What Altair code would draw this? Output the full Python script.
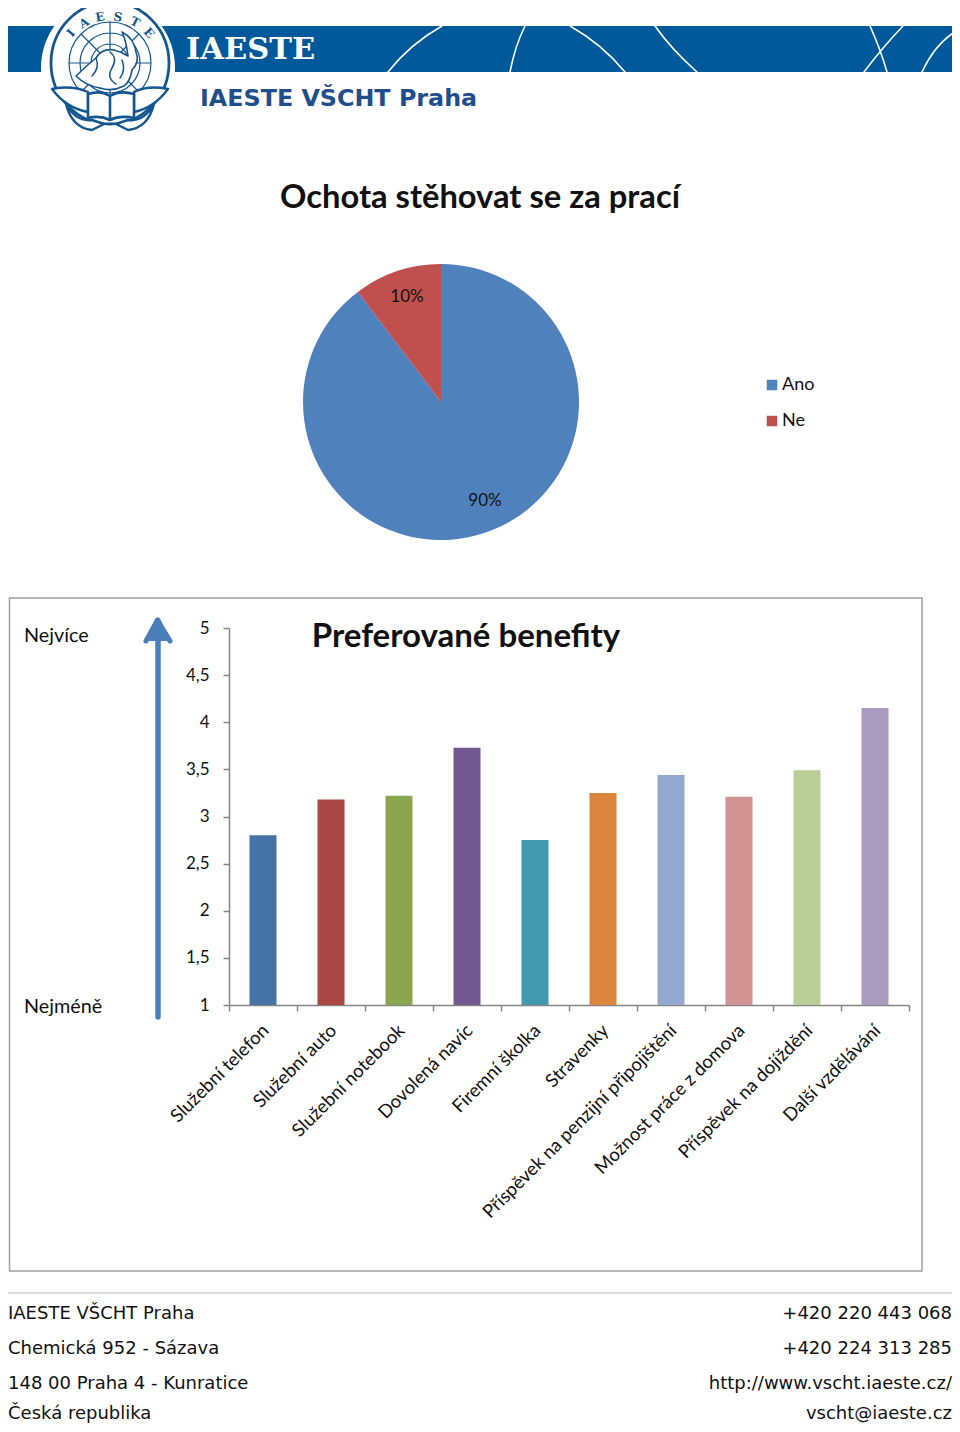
import altair as alt
import pandas as pd

BENEFITS = ["Služební telefon", "Služební auto", "Služební notebook", "Dovolená navíc",
            "Firemní školka", "Stravenky", "Příspěvek na penzijní připojištění",
            "Možnost práce z domova", "Příspěvek na dojíždění", "Další vzdělávání"]
SCORES = [2.80, 3.18, 3.22, 3.73, 2.75, 3.25, 3.44, 3.21, 3.49, 4.15]
BAR_COLORS = ["#4573A7", "#AA4643", "#89A54E", "#71588F", "#4198AF",
              "#DB843D", "#93A9CF", "#D19392", "#B9CD96", "#A99BBD"]
Y_TICKS = [1, 1.5, 2, 2.5, 3, 3.5, 4, 4.5, 5]
ANSWERS = ["Ano", "Ne"]
SHARES = [89.7, 10.3]
PIE_COLORS = ["#4F81BD", "#C0504D"]
FOOT_LEFT = ["IAESTE VŠCHT Praha", "Chemická 952 - Sázava", "148 00 Praha 4 - Kunratice", "Česká republika"]
FOOT_RIGHT = ["+420 220 443 068", "+420 224 313 285", "http://www.vscht.iaeste.cz/", "vscht@iaeste.cz"]

BLUE = "#00599A"
LOGO = "#14568F"
ONE = pd.DataFrame({"a": [0]})
OFF = 8
W = 944
H = 1416
FOOT_Y = [1314, 1349, 1384, 1414]


def text(s, x, y, size, font="Lato", color="#111111", align="left", weight="normal", angle=0):
    return alt.Chart(ONE).mark_text(text=s, font=font, fontSize=size, color=color, align=align,
                                    baseline="middle", fontWeight=weight, angle=angle).encode(
        x=alt.value(x - OFF), y=alt.value(y - OFF))


def box(x, y, x2, y2, fill):
    return alt.Chart(ONE).mark_rect(color=fill).encode(
        x=alt.value(x - OFF), x2=alt.value(x2 - OFF), y=alt.value(y - OFF), y2=alt.value(y2 - OFF))


def path(d, stroke=None, width=1.0, fill=None):
    props = dict(shape=d, size=4, opacity=1, strokeCap="round", strokeJoin="round")
    if fill:
        props.update(fill=fill, filled=True)
    else:
        props.update(filled=False)
    if stroke:
        props.update(stroke=stroke, strokeWidth=width)
    else:
        props.update(strokeWidth=0)
    return alt.Chart(ONE).mark_point(**props).encode(x=alt.value(-OFF), y=alt.value(-OFF))


def ellipse(cx, cy, rx, ry):
    return (f"M{cx-rx},{cy}A{rx},{ry} 0 1 1 {cx+rx},{cy}A{rx},{ry} 0 1 1 {cx-rx},{cy}Z")


layers = []

# header banner
layers.append(box(0, 26, 954, 72, BLUE))
layers.append(path("M388,72Q410,44 442,26M510,72Q515,46 525,26M570,26Q602,44 625,72"
                   "M655,26Q672,50 697,72M870,26Q880,48 887,72M903,26Q882,48 864,72M953,33Q934,46 922,72",
                   stroke="#FFFFFF", width=1.6))
layers.append(path(ellipse(108, 68, 67, 70), fill="#FFFFFF"))
layers.append(path(ellipse(110, 63, 59, 61), stroke=LOGO, width=2.8))
layers.append(path(ellipse(110, 63, 41, 41) + ellipse(110, 63, 30, 30) + ellipse(110, 63, 19, 19)
                   + "M69,63L151,63M110,22L110,104M81,34L139,92M139,34L81,92",
                   stroke=LOGO, width=1.2))
layers.append(path("M76,76Q86,66 96,58Q102,48 114,50Q122,52 128,56Q126,40 122,32Q134,38 136,52Q140,62 132,70"
                   "Q130,82 124,86Q112,92 100,88Q86,86 76,76Z", stroke=LOGO, width=1.6, fill="#FFFFFF"))
layers.append(path("M110,52Q118,58 112,68Q106,78 116,84M96,58Q100,68 92,76M122,60Q126,70 120,78",
                   stroke=LOGO, width=1.5))
layers.append(path("M52,89Q72,85 88,92L88,112Q66,108 52,89Z"
                   "M168,89Q148,85 134,92L134,112Q154,108 168,89Z", stroke=LOGO, width=2.4, fill="#FFFFFF"))
layers.append(path("M66,104Q76,122 92,120L104,124L92,130Q72,128 66,104Z"
                   "M154,104Q144,122 128,120L116,124L128,130Q148,128 154,104Z", stroke=LOGO, width=2.4, fill="#FFFFFF"))
layers.append(path("M88,94Q100,90 110,96Q120,90 134,94L134,118Q120,115 110,120Q100,115 88,118Z M110,96L110,120",
                   stroke=LOGO, width=2.6, fill="#FFFFFF"))
for ch, x, y, a in [("I", 71, 33, -48), ("A", 84, 23, -30), ("E", 100, 17, -10),
                    ("S", 118, 17, 10), ("T", 135, 22, 28), ("E", 149, 33, 48)]:
    layers.append(text(ch, x, y, 12, font="DejaVu Serif", color=LOGO, align="center", weight="bold", angle=(a + 360) % 360))
layers.append(text("IAESTE", 186, 50, 30.5, font="DejaVu Serif", color="#FFFFFF", weight="bold"))
layers.append(text("IAESTE VŠCHT Praha", 200, 98.5, 23.8, font="DejaVu Sans", color="#1F4E8C", weight="bold"))

# pie
layers.append(text("Ochota stěhovat se za prací", 480, 198, 32.7, align="center", weight="bold"))
pie_df = pd.DataFrame({"odpoved": ANSWERS, "podil": SHARES})
layers.append(alt.Chart(pie_df).mark_arc(radius=138).encode(
    theta=alt.Theta("podil:Q", stack=True),
    color=alt.Color("odpoved:N", sort=ANSWERS, scale=alt.Scale(domain=ANSWERS, range=PIE_COLORS),
                    legend=alt.Legend(orient="none", legendX=763 - OFF, legendY=376 - OFF, title=None,
                                      symbolType="square", symbolSize=110, labelFont="Lato",
                                      labelFontSize=18, labelColor="#111111", rowPadding=18,
                                      labelOffset=1, symbolStrokeWidth=0, padding=0)),
    x=alt.value(441 - OFF), y=alt.value(402 - OFF)))
layers.append(text("10%", 407, 297, 17, align="center"))
layers.append(text("90%", 485, 501, 17, align="center"))

# bar chart frame
layers.append(alt.Chart(ONE).mark_rect(fill="#FFFFFF", fillOpacity=0, stroke="#A0A0A0", strokeWidth=1.5).encode(
    x=alt.value(9.5 - OFF), x2=alt.value(922 - OFF), y=alt.value(598 - OFF), y2=alt.value(1271 - OFF)))
layers.append(text("Preferované benefity", 466, 637, 33, align="center", weight="bold"))
layers.append(text("Nejvíce", 24, 636, 19.8))
layers.append(text("Nejméně", 24, 1007, 19.8))
layers.append(path("M158,1017L158,622", stroke="#4A7EBB", width=5.5))
layers.append(path("M146,641L157.5,620L170,641M158,620L153,630L163,630Z", stroke="#4A7EBB", width=5, fill="#4A7EBB"))

bar_df = pd.DataFrame({"benefit": BENEFITS, "skore": SCORES})
layers.append(alt.Chart(bar_df).mark_bar(size=27).encode(
    x=alt.X("benefit:N", sort=BENEFITS, title=None,
            scale=alt.Scale(domain=BENEFITS, range=[229 - OFF, 909 - OFF], paddingInner=0, paddingOuter=0),
            axis=alt.Axis(orient="bottom", offset=(1005 - OFF) - H, tickBand="extent", labelAngle=-45,
                          labelAlign="right", labelBaseline="middle", labelFont="Lato", labelFontSize=18.5,
                          labelColor="#111111", labelLimit=0, labelOverlap=False, labelPadding=16,
                          labelOffset=2, domainColor="#868686", tickColor="#868686", tickSize=6, domainWidth=1.5,
                          tickWidth=1.5, labelBound=False, labelFlush=False)),
    y=alt.Y("skore:Q", title=None,
            scale=alt.Scale(domain=[1, 5], range=[1005 - OFF, 628 - OFF], zero=False, nice=False),
            axis=alt.Axis(orient="left", offset=-(229 - OFF), values=Y_TICKS, grid=False,
                          labelExpr="replace('' + datum.value, '.', ',')", labelFont="Lato", labelFontSize=17,
                          labelColor="#111111", labelPadding=14, domainColor="#868686", tickColor="#868686",
                          tickSize=6, domainWidth=1.5, tickWidth=1.5, labelOverlap=False, labelBound=False)),
    y2=alt.Y2Datum(1),
    color=alt.Color("benefit:N", sort=BENEFITS, scale=alt.Scale(domain=BENEFITS, range=BAR_COLORS), legend=None)))

# footer
layers.append(alt.Chart(ONE).mark_rule(color="#B5B5B5", strokeWidth=1).encode(
    x=alt.value(0), x2=alt.value(W), y=alt.value(1293 - OFF)))
for l, r, y in zip(FOOT_LEFT, FOOT_RIGHT, FOOT_Y):
    layers.append(text(l, 8, y, 18, font="DejaVu Sans", color="#111111"))
    layers.append(text(r, 952, y, 18, font="DejaVu Sans", color="#111111", align="right"))

chart = alt.layer(*layers).resolve_scale(x="independent", y="independent", color="independent", theta="independent").properties(
    width=W, height=H, autosize=alt.AutoSizeParams(type="none"), padding=0
).configure_view(stroke=None)

chart.save("out.html", embed_options={"renderer": "svg", "actions": False})
